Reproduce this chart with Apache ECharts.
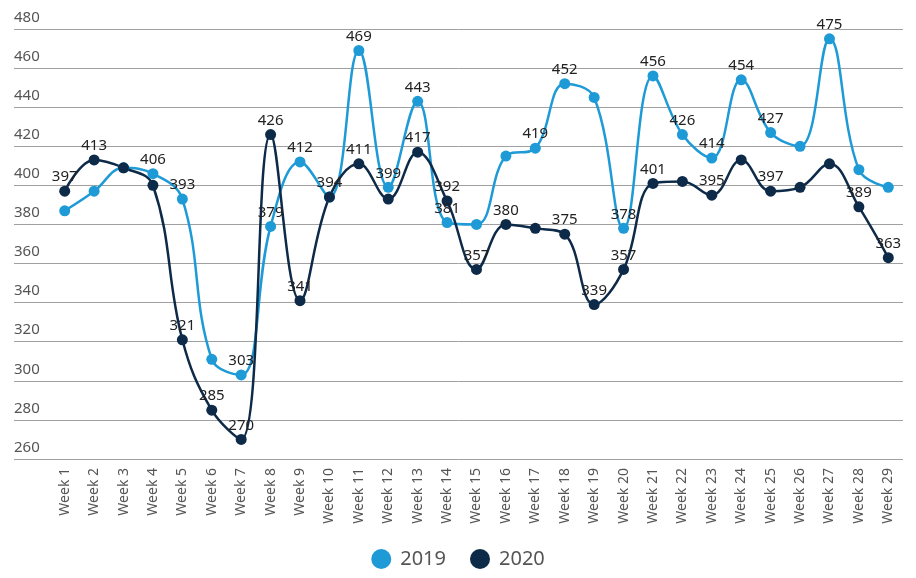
<!DOCTYPE html>
<html>
<head>
<meta charset="utf-8">
<script src="https://cdn.jsdelivr.net/npm/echarts@6/dist/echarts.min.js"></script>
<style>
  html, body { margin: 0; padding: 0; background: #fff; }
  #chart { width: 916px; height: 578px; }
</style>
</head>
<body>
<div id="chart"></div>
<script>
  // data
  var weeks = ['Week 1', 'Week 2', 'Week 3', 'Week 4', 'Week 5', 'Week 6', 'Week 7', 'Week 8', 'Week 9', 'Week 10',
    'Week 11', 'Week 12', 'Week 13', 'Week 14', 'Week 15', 'Week 16', 'Week 17', 'Week 18', 'Week 19', 'Week 20',
    'Week 21', 'Week 22', 'Week 23', 'Week 24', 'Week 25', 'Week 26', 'Week 27', 'Week 28', 'Week 29'];
  var values2019 = [387, 397, 409, 406, 393, 311, 303, 379, 412, 394, 469, 399, 443, 381, 380, 415, 419, 452, 445, 378,
    456, 426, 414, 454, 427, 420, 475, 408, 399];
  var values2020 = [397, 413, 409, 400, 321, 285, 270, 426, 341, 394, 411, 393, 417, 392, 357, 380, 378, 375, 339, 357,
    401, 402, 395, 413, 397, 399, 411, 389, 363];
  // which points carry a value label (1 = shown)
  var labels2019 = [0, 0, 0, 1, 1, 0, 1, 1, 1, 0, 1, 1, 1, 1, 0, 0, 1, 1, 0, 1, 1, 1, 1, 1, 1, 0, 1, 0, 0];
  var labels2020 = [1, 1, 0, 0, 1, 1, 1, 1, 1, 1, 1, 0, 1, 1, 1, 1, 0, 1, 1, 1, 1, 0, 1, 0, 1, 0, 0, 1, 1];
  var yMin = 260, yMax = 480, yStep = 20;

  var blue = '#1e9ad6';
  var navy = '#0d2a48';

  function withLabels(vals, flags) {
    return vals.map(function (v, i) {
      return { value: v, label: { show: flags[i] === 1 } };
    });
  }

  var labelStyle = {
    position: 'top',
    distance: 1,
    color: '#222',
    fontSize: 15,
    fontFamily: 'Noto Sans'
  };

  var myChart = echarts.init(document.getElementById('chart'));
  myChart.setOption({
    animation: false,
    textStyle: { fontFamily: 'Noto Sans' },
    // grid 0 holds the lines, grid 1 only draws the long gridlines and y labels
    grid: [
      { left: 50, right: 13, top: 29, bottom: 119 },
      { left: 14, right: 13, top: 29, bottom: 119 }
    ],
    legend: {
      bottom: 4,
      left: 'center',
      icon: 'circle',
      itemWidth: 20,
      itemHeight: 20,
      itemGap: 24,
      textStyle: { fontSize: 20, color: '#555', fontFamily: 'Noto Sans', padding: [0, 0, 0, 4] },
      data: ['2019', '2020']
    },
    xAxis: [
      {
        type: 'category',
        gridIndex: 0,
        data: weeks,
        axisLine: { show: false },
        axisTick: { show: false },
        axisLabel: {
          rotate: 90,
          interval: 0,
          margin: 9,
          color: '#555',
          fontSize: 14,
          fontFamily: 'Noto Sans'
        }
      },
      { type: 'value', gridIndex: 1, show: false }
    ],
    yAxis: [
      {
        type: 'value',
        gridIndex: 0,
        min: yMin,
        max: yMax,
        interval: yStep,
        show: false,
        splitLine: { show: false }
      },
      {
        type: 'value',
        gridIndex: 1,
        min: yMin,
        max: yMax,
        interval: yStep,
        axisLine: { show: false },
        axisTick: { show: false },
        splitLine: { lineStyle: { color: '#a0a0a0', width: 1 } },
        axisLabel: {
          inside: true,
          margin: 0,
          verticalAlign: 'bottom',
          padding: [0, 0, 4, 0],
          color: '#555',
          fontSize: 15,
          fontFamily: 'Noto Sans'
        }
      }
    ],
    series: [
      {
        name: '2019',
        type: 'line',
        xAxisIndex: 0,
        yAxisIndex: 0,
        smooth: 0.4,
        symbol: 'circle',
        symbolSize: 11,
        itemStyle: { color: blue },
        lineStyle: { color: blue, width: 2.5 },
        label: labelStyle,
        data: withLabels(values2019, labels2019)
      },
      {
        name: '2020',
        type: 'line',
        xAxisIndex: 0,
        yAxisIndex: 0,
        smooth: 0.4,
        symbol: 'circle',
        symbolSize: 11,
        itemStyle: { color: navy },
        lineStyle: { color: navy, width: 2.5 },
        label: labelStyle,
        data: withLabels(values2020, labels2020)
      }
    ]
  });
</script>
</body>
</html>
